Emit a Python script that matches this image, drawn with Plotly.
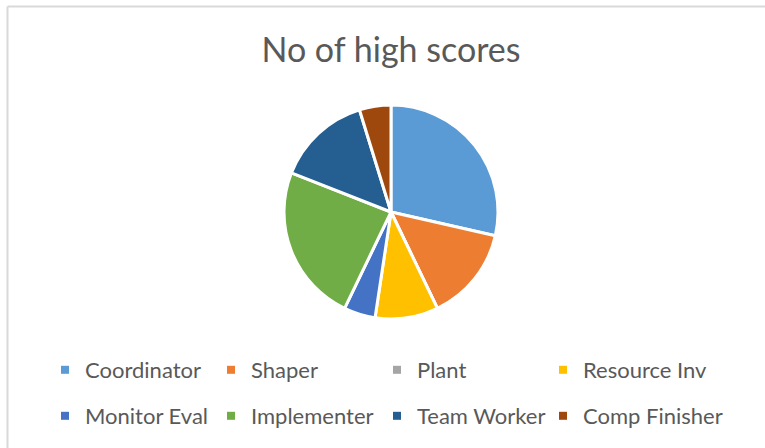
import plotly.graph_objects as go

categories = ["Coordinator", "Shaper", "Plant", "Resource Inv",
              "Monitor Eval", "Implementer", "Team Worker", "Comp Finisher"]
high_scores = [6, 3, 0, 2, 1, 5, 3, 1]
colors = ["#5B9BD5", "#ED7D31", "#A5A5A5", "#FFC000",
          "#4472C4", "#70AD47", "#255E91", "#9E480E"]

W, H = 765, 448
cx, cy, r = 391, 212, 107
TEXT = "#595959"

# legend layout: 4 columns x 2 rows (text-start x in px, row centre y in px)
col_text_x = [88, 254, 420, 586]
row_y = [370, 416]

fig = go.Figure()
fig.add_trace(go.Pie(
    labels=categories,
    values=high_scores,
    sort=False,
    direction="clockwise",
    rotation=0,
    textinfo="none",
    showlegend=False,
    marker=dict(colors=colors, line=dict(color="white", width=3)),
    domain=dict(x=[(cx - r) / W, (cx + r) / W],
                y=[1 - (cy + r) / H, 1 - (cy - r) / H]),
))

legends = {}
for i, (cat, col) in enumerate(zip(categories, colors)):
    key = "legend" if i == 0 else f"legend{i + 1}"
    fig.add_trace(go.Scatter(
        x=[None], y=[None], mode="markers", name=cat,
        marker=dict(symbol="square", size=8, color=col),
        legend=key, hoverinfo="skip",
    ))
    legends[key] = dict(
        orientation="h", xanchor="left", yanchor="middle",
        x=(col_text_x[i % 4] - 43) / W, y=1 - row_y[i // 4] / H,
        font=dict(family="Lato", size=22, color=TEXT),
        bgcolor="rgba(0,0,0,0)",
    )

fig.update_layout(
    width=W, height=H,
    margin=dict(l=0, r=0, t=0, b=0),
    paper_bgcolor="white",
    plot_bgcolor="white",
    font=dict(family="Lato", color=TEXT),
    xaxis=dict(visible=False),
    yaxis=dict(visible=False),
    title=dict(text="No of high scores", x=391 / W, xanchor="center",
               y=1 - 50 / H, yanchor="middle",
               font=dict(family="Lato", size=34, color=TEXT)),
    shapes=[
        dict(type="line", xref="paper", yref="paper",
             x0=7.5 / W, x1=1.01, y0=1 - 6.5 / H, y1=1 - 6.5 / H,
             line=dict(color="#d9d9d9", width=2)),
        dict(type="line", xref="paper", yref="paper",
             x0=7.5 / W, x1=7.5 / W, y0=1 - 6.5 / H, y1=-0.01,
             line=dict(color="#d9d9d9", width=2)),
    ],
    **legends,
)

fig.write_html("out.html",
               config={"displayModeBar": False},
               post_script="document.body.style.margin='0px';")
